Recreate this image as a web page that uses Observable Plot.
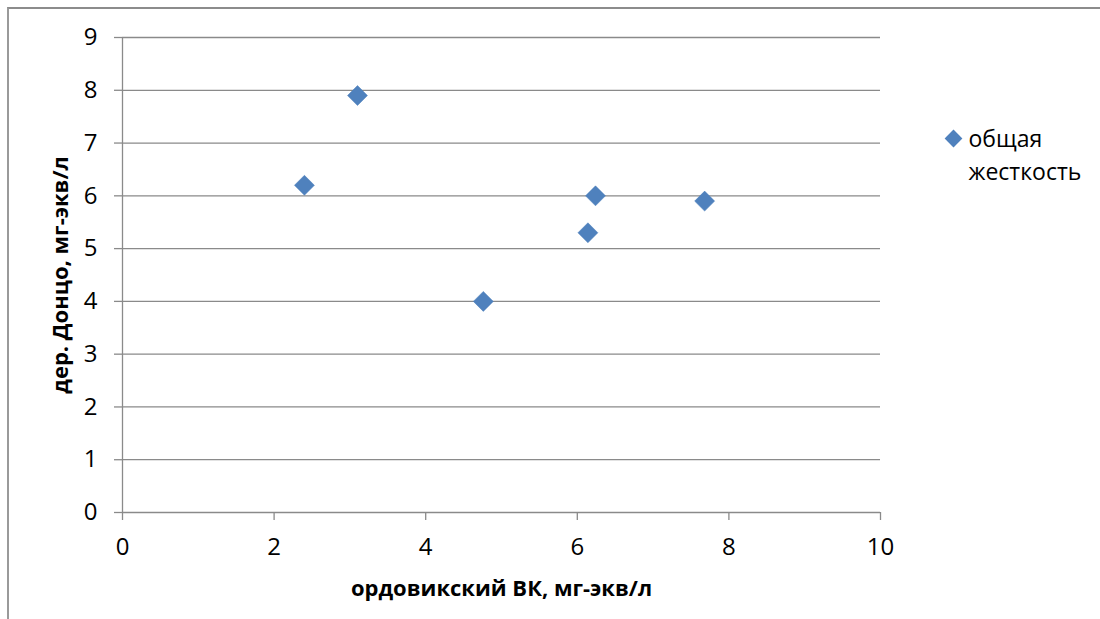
<!DOCTYPE html>
<html>
<head>
<meta charset="utf-8">
<script src="https://cdn.jsdelivr.net/npm/d3@7"></script>
<script src="https://cdn.jsdelivr.net/npm/@observablehq/plot@0.6"></script>
<style>
  html, body { margin: 0; padding: 0; background: #fff; }
  #wrap { position: relative; width: 1100px; height: 619px; overflow: hidden; }
  #frame { position: absolute; left: 7px; top: 7px; width: 1200px; height: 700px;
           border-left: 2px solid #9a9a9a; border-top: 2px solid #8c8c8c; box-sizing: border-box; }
  #wrap svg { position: absolute; left: 0; top: 0; }
</style>
</head>
<body>
<div id="wrap"><div id="frame"></div></div>
<script>
// Total hardness: Ordovician aquifer vs. village Dontso
const ordovicianBK = [2.4, 3.1, 4.76, 6.14, 6.24, 7.68];
const dontsoHardness = [6.2, 7.9, 4.0, 5.3, 6.0, 5.9];
const xTicks = [0, 2, 4, 6, 8, 10];
const yTicks = [0, 1, 2, 3, 4, 5, 6, 7, 8, 9];
const legendLines = ["общая", "жесткость"];
const xTitle = "ордовикский ВК, мг-экв/л";
const yTitle = "дер. Донцо, мг-экв/л";

const points = ordovicianBK.map((x, i) => ({x, y: dontsoHardness[i]}));

const gridColor = "#8a8a8a";
const markerColor = "#4f81bd";
const fmt = d3.format("d");

const chart = Plot.plot({
  width: 1100,
  height: 619,
  marginLeft: 122,
  marginRight: 220,
  marginTop: 37,
  marginBottom: 107,
  x: {domain: [0, 10]},
  y: {domain: [0, 9]},
  style: {fontFamily: "'Open Sans', sans-serif", fontSize: "24px", color: "#000", background: "transparent", overflow: "visible"},
  marks: [
    Plot.ruleY(yTicks, {stroke: gridColor, strokeWidth: 1.3}),
    Plot.ruleX([0], {stroke: gridColor, strokeWidth: 1.3}),
    Plot.axisY(yTicks, {tickSize: 8, tickPadding: 17, tickFormat: fmt, stroke: gridColor, strokeWidth: 1.3, strokeOpacity: 1, label: null, fontSize: 24, fill: "#000"}),
    Plot.axisX(xTicks, {tickSize: 8, tickPadding: 17, tickFormat: fmt, stroke: gridColor, strokeWidth: 1.3, strokeOpacity: 1, label: null, fontSize: 24, fill: "#000"}),
    Plot.dot(points, {x: "x", y: "y", symbol: "diamond2", r: 9, fill: markerColor, stroke: "#4a7ebb", strokeWidth: 0.5}),
    Plot.text([xTitle], {frameAnchor: "bottom", dy: 76, textAnchor: "middle", lineAnchor: "middle", fontWeight: "bold", fontSize: 22, fill: "#000"}),
    Plot.text([yTitle], {frameAnchor: "left", dx: -62, textAnchor: "middle", lineAnchor: "middle", rotate: -90, fontWeight: "bold", fontSize: 22, fill: "#000"}),
    // legend
    Plot.dot([legendLines], {frameAnchor: "top-right", dx: 73, dy: 101, symbol: "diamond2", r: 8, fill: markerColor}),
    Plot.text([legendLines.join("\n")], {frameAnchor: "top-right", dx: 88, dy: 87, textAnchor: "start", lineAnchor: "top", lineHeight: 1.4, fontSize: 23, fill: "#000"})
  ]
});
document.getElementById("wrap").appendChild(chart);
</script>
</body>
</html>
